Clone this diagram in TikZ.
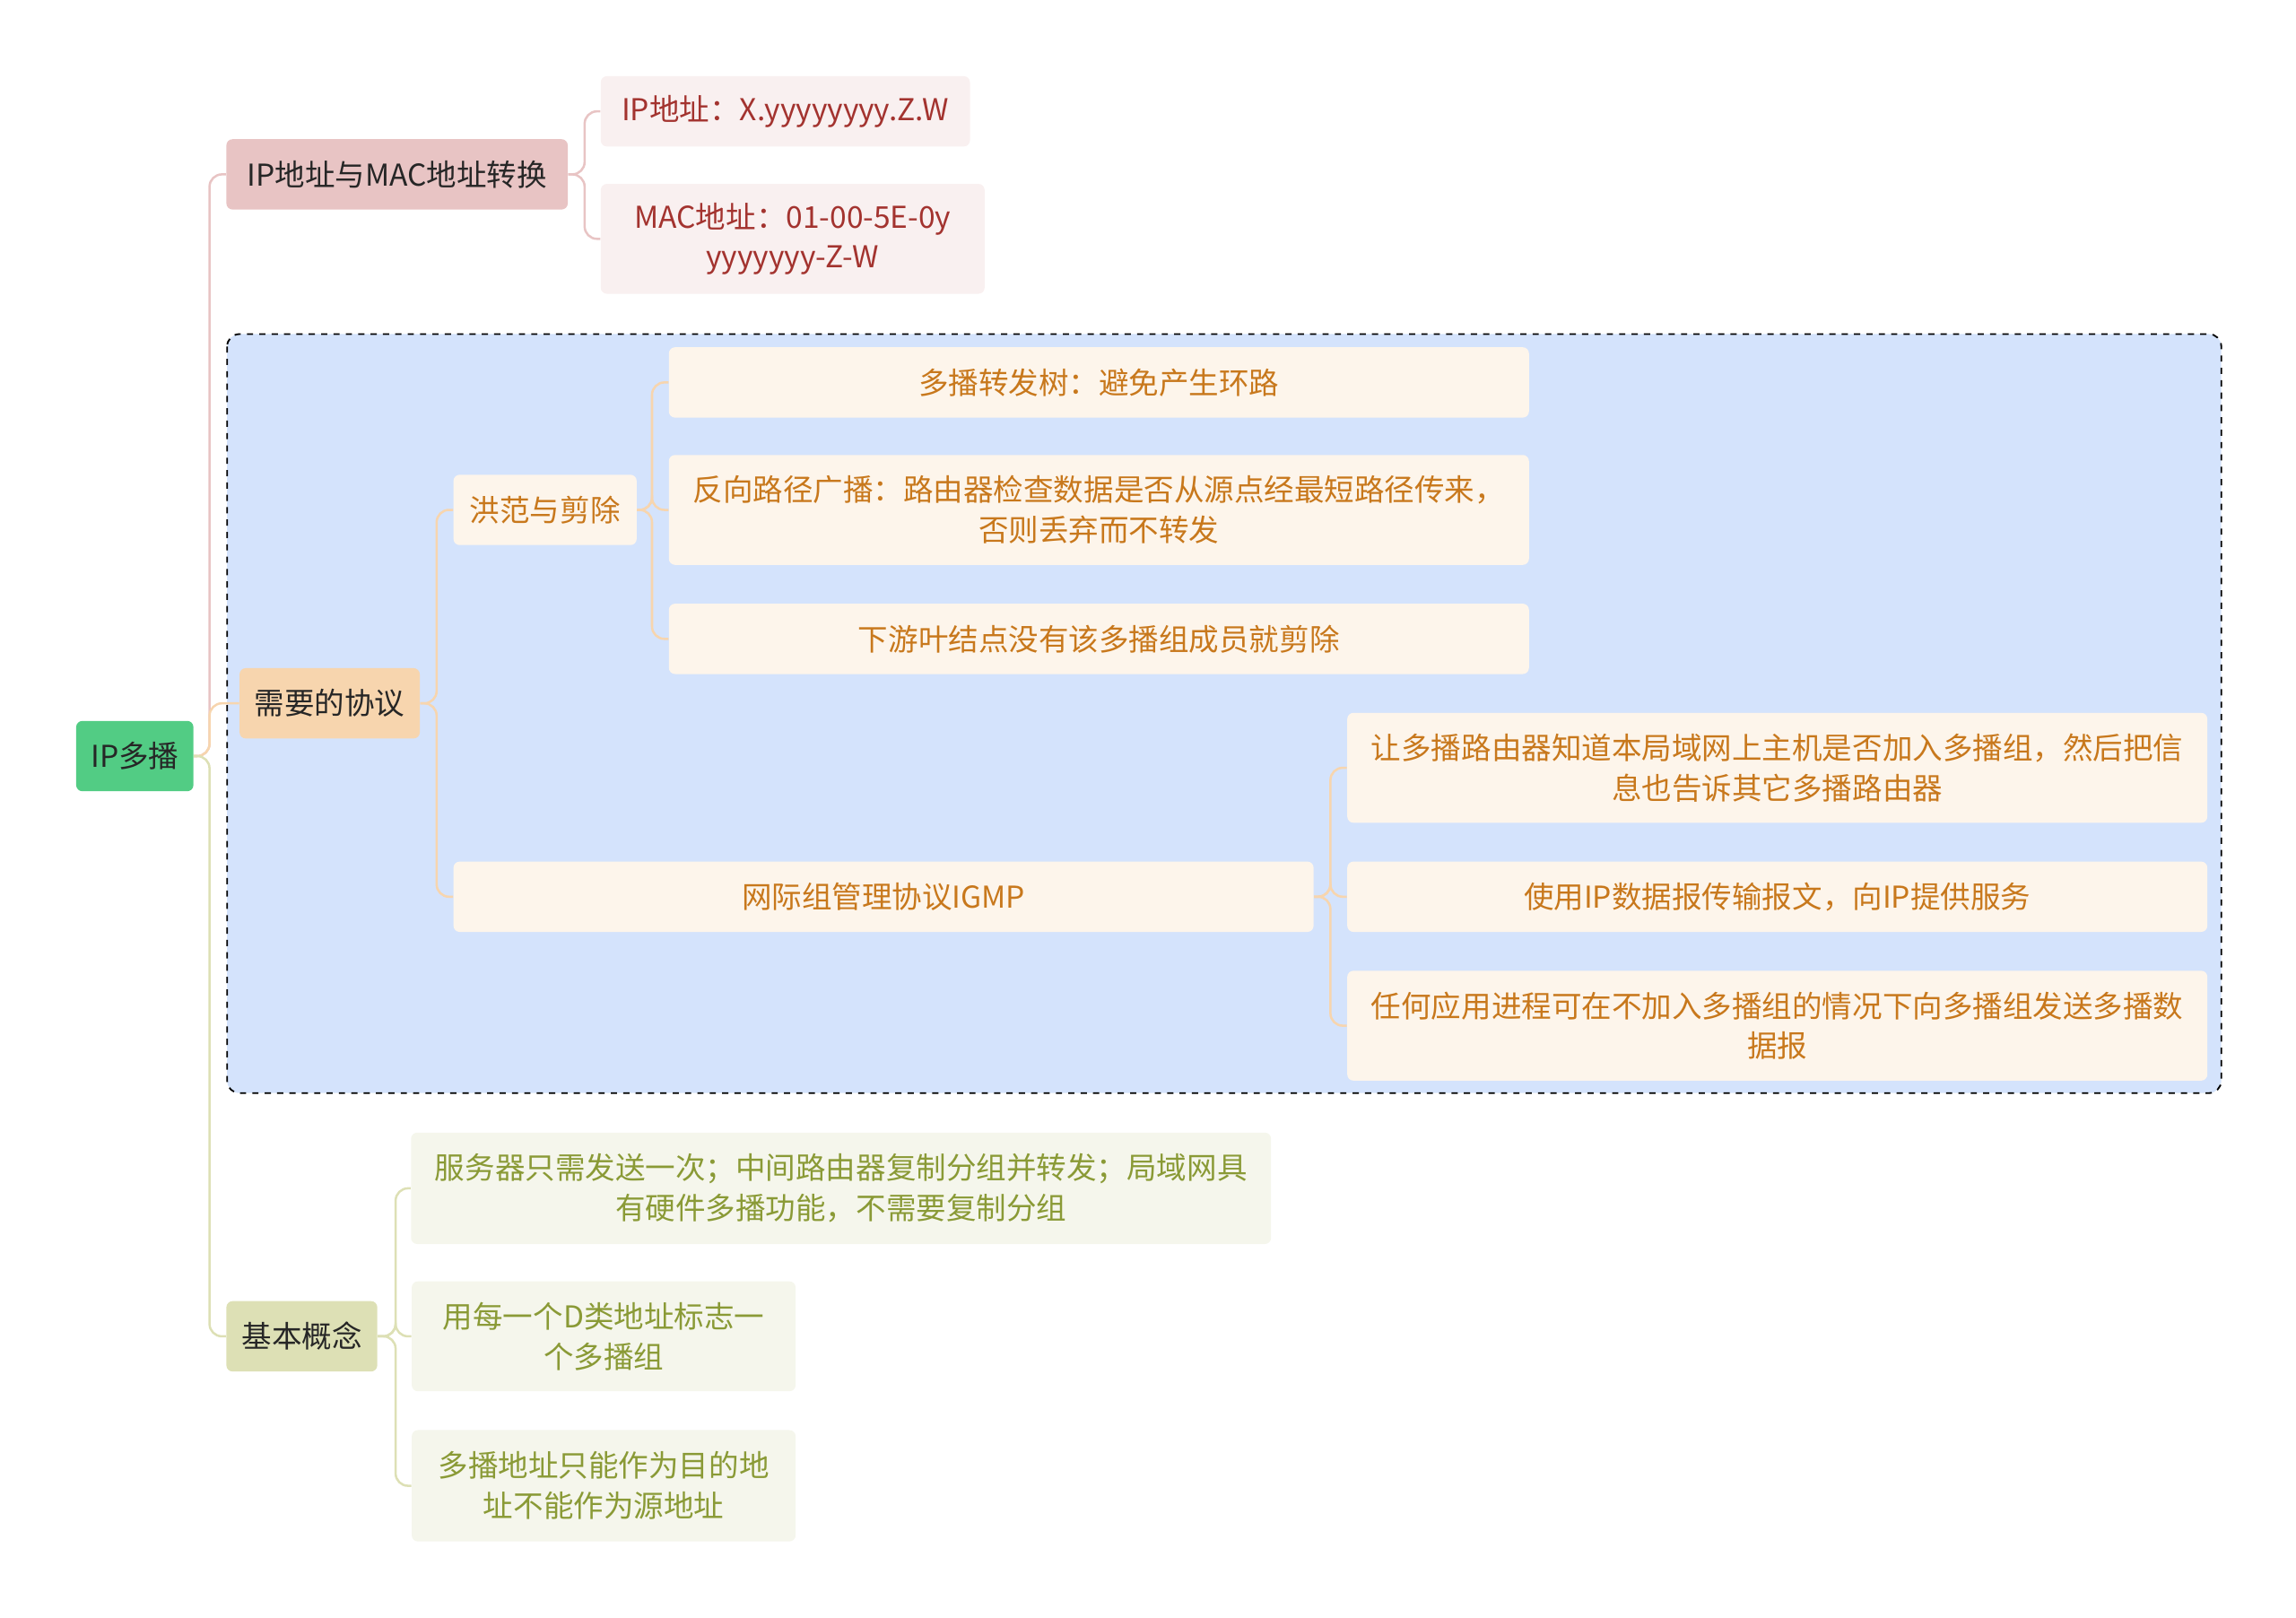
\documentclass[tikz,border=0pt]{standalone}
\usepackage{fontspec}
\setmainfont{Noto Sans CJK SC}
\begin{document}
\begin{tikzpicture}[x=0.025cm,y=-0.025cm,
  bx/.style 2 args={minimum width=#1*0.025cm, minimum height=#2*0.025cm, rounded corners=3pt, inner sep=0pt, align=center, font=\fontsize{14.6}{19.5}\selectfont},
  pk/.style={fill=pinkA, text=black!85},
  pkl/.style={fill=pinkL, text=redT},
  og/.style={fill=orA, text=black!85},
  ogl/.style={fill=orL, text=orT},
  ol/.style={fill=olA, text=black!85},
  oll/.style={fill=olL, text=olT},
  ln/.style={line width=1.1pt, rounded corners=6pt}]
\definecolor{pinkA}{HTML}{E8C4C4}\definecolor{pinkL}{HTML}{F9F0F0}\definecolor{redT}{HTML}{A3332F}
\definecolor{orA}{HTML}{F7D5AE}\definecolor{orL}{HTML}{FDF5EB}\definecolor{orT}{HTML}{C8781C}
\definecolor{olA}{HTML}{DDE0B5}\definecolor{olL}{HTML}{F5F6EC}\definecolor{olT}{HTML}{8A9A36}
\definecolor{blueBg}{HTML}{D4E3FC}\definecolor{rootC}{HTML}{52CC84}
\useasboundingbox (0,0) rectangle (1567,1104);
\draw[fill=blueBg, dashed, line width=0.8pt, rounded corners=6pt] (155,228) rectangle (1516,746);
\node[bx={80}{48}, fill=rootC, text=black!85] (root) at (92,516) {IP多播};
\node[bx={233}{48}, pk] (ipmac) at (271,119) {IP地址与MAC地址转换};
\node[bx={252}{48}, pkl] (ip) at (536,76) {IP地址：X.yyyyyyyy.Z.W};
\node[bx={262}{75}, pkl] (mac) at (541,163) {MAC地址：01-00-5E-0y\\yyyyyyy-Z-W};
\node[bx={123}{48}, og] (xy) at (225,480) {需要的协议};
\node[bx={125}{48}, ogl] (hf) at (372,348) {洪范与剪除};
\node[bx={587}{48}, ogl] (h1) at (750,261) {多播转发树：避免产生环路};
\node[bx={587}{75}, ogl] (h2) at (750,348) {反向路径广播：路由器检查数据是否从源点经最短路径传来，\\否则丢弃而不转发};
\node[bx={587}{48}, ogl] (h3) at (750,436) {下游叶结点没有该多播组成员就剪除};
\node[bx={587}{48}, ogl] (igmp) at (603,612) {网际组管理协议IGMP};
\node[bx={587}{75}, ogl] (g1) at (1213,524) {让多播路由器知道本局域网上主机是否加入多播组，然后把信\\息也告诉其它多播路由器};
\node[bx={587}{48}, ogl] (g2) at (1213,612) {使用IP数据报传输报文，向IP提供服务};
\node[bx={587}{75}, ogl] (g3) at (1213,700) {任何应用进程可在不加入多播组的情况下向多播组发送多播数\\据报};
\node[bx={103}{48}, ol] (jb) at (206,912) {基本概念};
\node[bx={587}{76}, oll] (b1) at (574,811) {服务器只需发送一次；中间路由器复制分组并转发；局域网具\\有硬件多播功能，不需要复制分组};
\node[bx={262}{75}, oll] (b2) at (412,912) {用每一个D类地址标志一\\个多播组};
\node[bx={262}{76}, oll] (b3) at (412,1014) {多播地址只能作为目的地\\址不能作为源地址};
\draw[ln, pinkA] (root.east) -- (143,516) |- (ipmac.west);
\draw[ln, orA] (root.east) -- (143,516) |- (xy.west);
\draw[ln, olA] (root.east) -- (143,516) |- (jb.west);
\foreach \c in {ip,mac} \draw[ln, pinkA] (ipmac.east) -- (399,119) |- (\c.west);
\foreach \c in {hf,igmp} \draw[ln, orA] (xy.east) -- (298,480) |- (\c.west);
\foreach \c in {h1,h2,h3} \draw[ln, orA] (hf.east) -- (445,348) |- (\c.west);
\foreach \c in {g1,g2,g3} \draw[ln, orA] (igmp.east) -- (908,612) |- (\c.west);
\foreach \c in {b1,b2,b3} \draw[ln, olA] (jb.east) -- (270,912) |- (\c.west);
\end{tikzpicture}
\end{document}
